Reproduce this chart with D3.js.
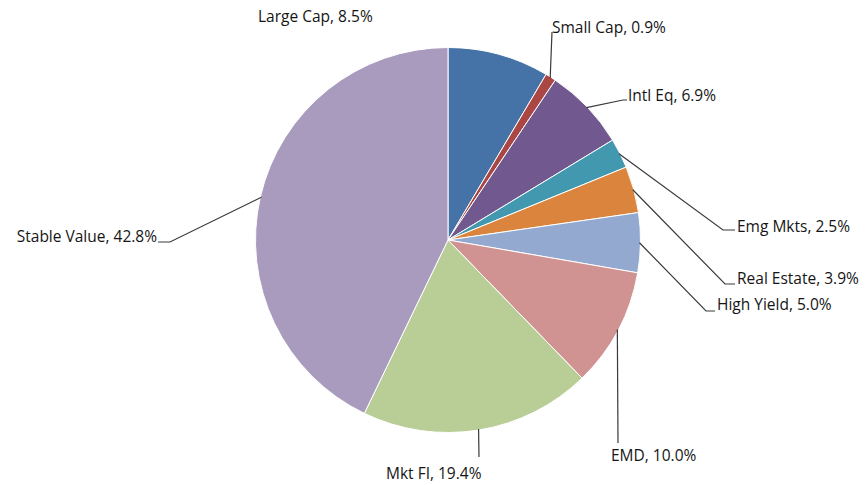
<!DOCTYPE html>
<html>
<head>
<meta charset="utf-8">
<script src="https://cdn.jsdelivr.net/npm/d3@7/dist/d3.min.js"></script>
<style>
  html, body { margin: 0; padding: 0; background: #fff; }
  svg { display: block; }
  text { font-family: "Open Sans", Lato, sans-serif; font-size: 15.5px; fill: #151515; }
</style>
</head>
<body>
<svg id="chart" width="865" height="485"></svg>
<script>
// ---- data ----
const categories = ["Large Cap", "Small Cap", "Intl Eq", "Emg Mkts", "Real Estate", "High Yield", "EMD", "Mkt FI", "Stable Value"];
const values = [8.5, 0.9, 6.9, 2.5, 3.9, 5.0, 10.0, 19.4, 42.8];
const colors = ["#4572A7", "#AA4643", "#71588F", "#4198AF", "#DB843D", "#93A9CF", "#D19392", "#B9CD96", "#A99BBD"];

// ---- layout (label placement) ----
const cx = 448, cy = 240, R = 192.5;
const labelLayout = [
  { elbow: null, tx: 258, ty: 22, anchor: "start" },
  { elbow: [552, 32], hx: 552, tx: 552, ty: 33, anchor: "start" },
  { elbow: [623, 100], hx: 627, tx: 628, ty: 101, anchor: "start" },
  { elbow: [723, 230], hx: 735, tx: 737, ty: 232, anchor: "start" },
  { elbow: [725, 284], hx: 735, tx: 737, ty: 284, anchor: "start" },
  { elbow: [706, 311], hx: 715, tx: 717, ty: 310, anchor: "start" },
  { elbow: [618, 443], hx: 618, tx: 611, ty: 461, anchor: "start" },
  { elbow: [479, 457], hx: 479, tx: 386, ty: 479, anchor: "start" },
  { elbow: [170, 242], hx: 158, tx: 157, ty: 242, anchor: "end" }
];

const data = categories.map((c, i) => ({ name: c, value: values[i], color: colors[i], layout: labelLayout[i] }));

const svg = d3.select("#chart");
const g = svg.append("g").attr("transform", `translate(${cx},${cy})`);

const pie = d3.pie().value(d => d.value).sort(null);
const arc = d3.arc().innerRadius(0).outerRadius(R);
const arcs = pie(data);

g.selectAll("path.slice")
  .data(arcs)
  .enter().append("path")
  .attr("class", "slice")
  .attr("d", arc)
  .attr("fill", d => d.data.color)
  .attr("stroke", "#fff")
  .attr("stroke-width", 1);

// leader lines
arcs.forEach(d => {
  const L = d.data.layout;
  if (!L.elbow) return;
  const mid = (d.startAngle + d.endAngle) / 2;
  const sx = cx + (R - 1) * Math.sin(mid);
  const sy = cy - (R - 1) * Math.cos(mid);
  const pts = [[sx, sy], L.elbow, [L.hx, L.elbow[1]]];
  svg.append("path")
    .attr("d", d3.line()(pts))
    .attr("fill", "none")
    .attr("stroke", "#3a3a3a")
    .attr("stroke-width", 1.2);
});

// labels
svg.selectAll("text.lbl")
  .data(arcs)
  .enter().append("text")
  .attr("class", "lbl")
  .attr("x", d => d.data.layout.tx)
  .attr("y", d => d.data.layout.ty)
  .attr("text-anchor", d => d.data.layout.anchor)
  .text(d => `${d.data.name}, ${d.data.value.toFixed(1)}%`);
</script>
</body>
</html>
